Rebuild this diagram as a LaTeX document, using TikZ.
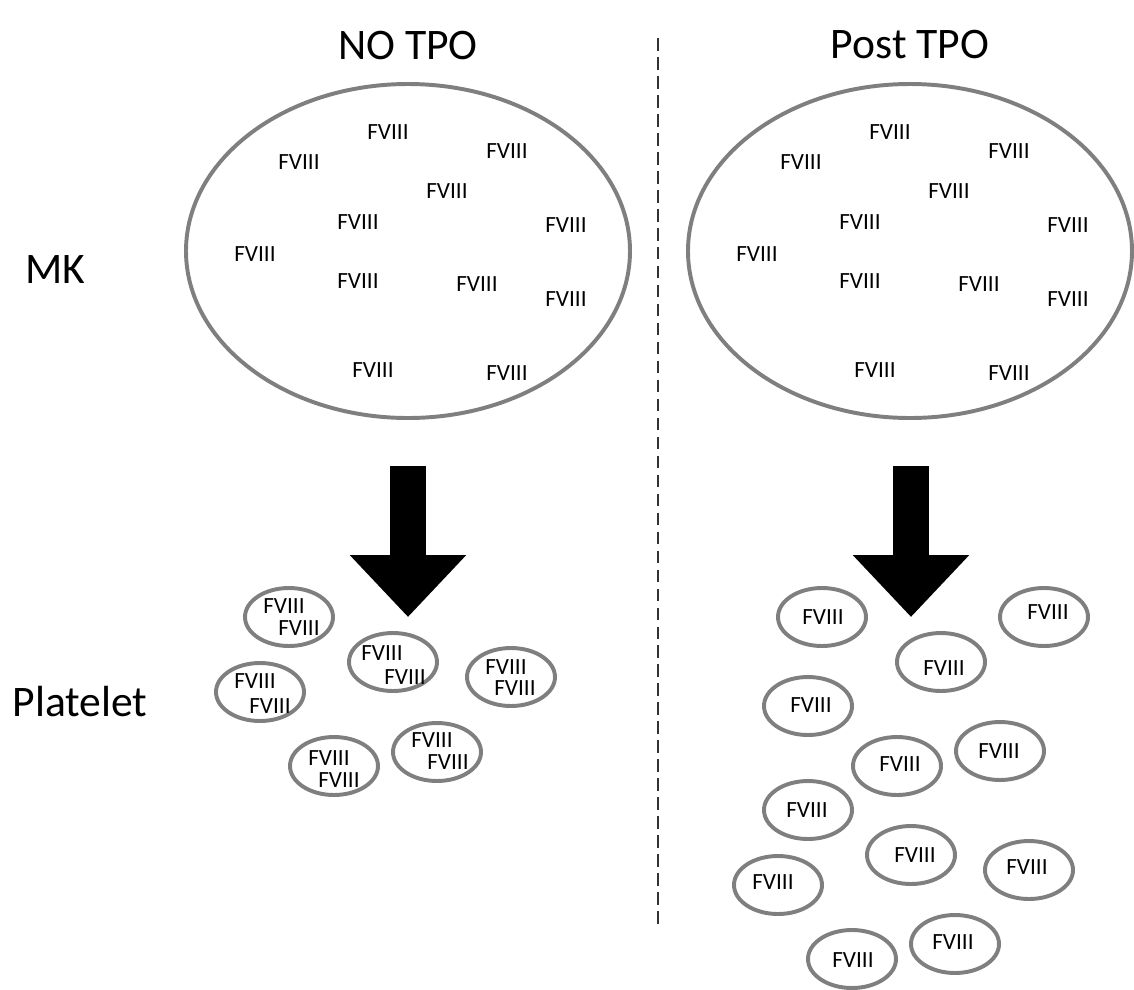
\documentclass[tikz,border=0pt]{standalone}
\usepackage{fontspec}
\setmainfont{Carlito}
\usetikzlibrary{arrows.meta}

\definecolor{cellgray}{RGB}{127,127,127}
\tikzset{
  cellline/.style={draw=cellgray, line width=2.8pt},
  fviii/.style={font=\fontsize{16.5}{18}\selectfont, inner sep=0pt},
  head/.style={font=\fontsize{31}{36}\selectfont, inner sep=0pt},
  bigarrow/.style={line width=26.2pt, -{Triangle[width=80pt,length=44pt]}},
}

\begin{document}
\begin{tikzpicture}[x=0.025cm, y=-0.025cm]
\useasboundingbox (0,0) rectangle (1134,989);

% headings and row labels
\node[head] (notpo) at (408,45) {NO TPO};
\node[head] (posttpo) at (910,45) {Post TPO};
\node[head] (mk) at (55,270) {MK};
\node[head] (plt) at (80,702) {Platelet};

% divider
\coordinate (divtop) at (658,38);
\coordinate (divbot) at (658,930);
\draw[line width=0.9pt, dash pattern=on 9pt off 4.5pt, black!80] (divtop) -- (divbot);

% megakaryocytes
\foreach \cx/\side in {0/L,502/R} {
  \draw[cellline] (\cx+408,251) ellipse [x radius=222, y radius=167];
  \foreach \x/\y [count=\i] in {388/132, 299/162, 507/151, 447/191, 358/222, 566/225,
                                255/254, 358/281, 477/284, 566/299, 373/370, 507/373}
    \node[fviii] (mk\side\i) at (\cx+\x,\y) {FVIII};
}

% arrows
\coordinate (arrLtop) at (408,466);
\coordinate (arrLtip) at (408,617);
\coordinate (arrRtop) at (911,466);
\coordinate (arrRtip) at (911,617);
\draw[bigarrow] (arrLtop) -- (arrLtip);
\draw[bigarrow] (arrRtop) -- (arrRtip);

% platelets, no TPO (two copies each)
\foreach \cx/\cy/\ax/\ay/\bx/\by [count=\i] in {289/617/284/606/299/628, 393/662/382/653/405/677,
    511/677/506/667/515/688, 260/692/255/681/270/706, 437/752/432/740/448/762, 334/766/329/758/339/780} {
  \draw[cellline] (\cx,\cy) ellipse [x radius=44, y radius=29];
  \node[fviii] (pltLa\i) at (\ax,\ay) {FVIII};
  \node[fviii] (pltLb\i) at (\bx,\by) {FVIII};
}

% platelets, post TPO
\foreach \cx/\cy/\tx/\ty [count=\i] in {822/617/823/617, 1044/617/1048/612, 941/662/944/668,
    808/706/811/705, 1000/751/999/751, 897/766/900/764, 808/810/807/810, 911/855/915/855,
    1029/870/1027/867, 778/885/773/882, 955/944/953/942, 852/959/853/960} {
  \draw[cellline] (\cx,\cy) ellipse [x radius=44, y radius=29];
  \node[fviii] (pltR\i) at (\tx,\ty) {FVIII};
}

\end{tikzpicture}
\end{document}
